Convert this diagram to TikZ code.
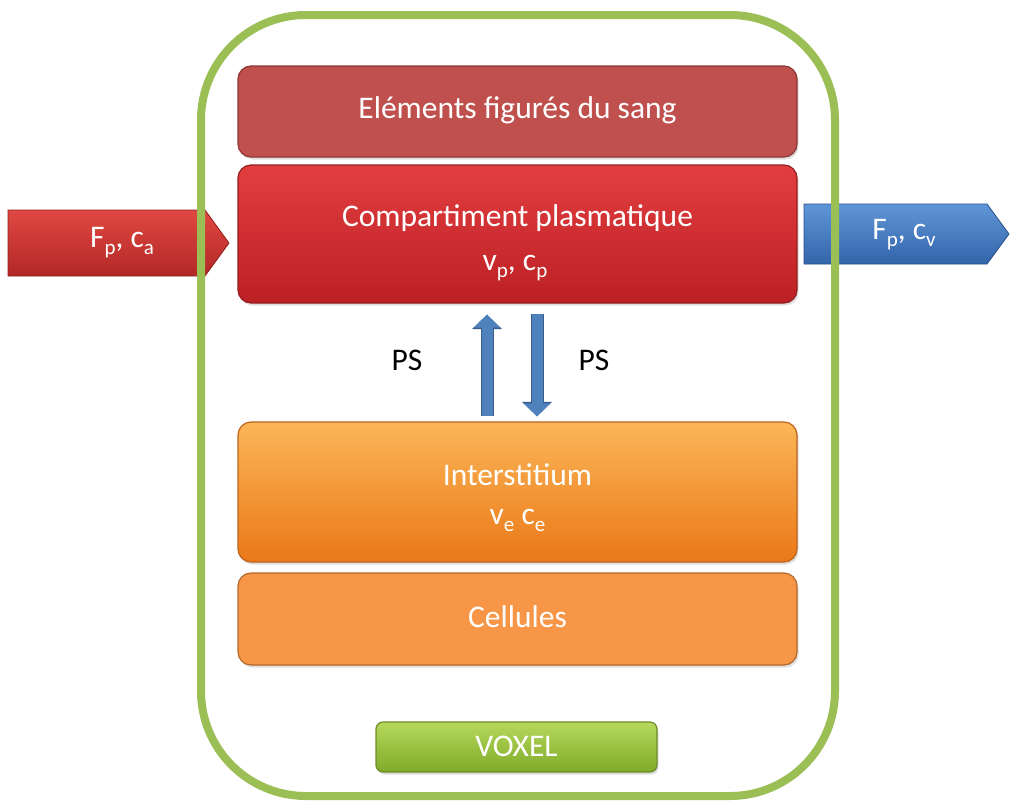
\documentclass[tikz,border=0pt]{standalone}
\usepackage{fontspec}
\setmainfont{Carlito}
\usetikzlibrary{calc,shadows,arrows.meta}
\definecolor{elemfill}{RGB}{192,80,77}
\definecolor{elemdraw}{RGB}{140,56,54}
\definecolor{comptop}{RGB}{226,62,64}
\definecolor{compbot}{RGB}{188,32,36}
\definecolor{compdraw}{RGB}{150,30,32}
\definecolor{intop}{RGB}{224,72,66}
\definecolor{inbot}{RGB}{178,40,38}
\definecolor{outtop}{RGB}{95,150,215}
\definecolor{outbot}{RGB}{50,100,170}
\definecolor{intertop}{RGB}{251,182,88}
\definecolor{interbot}{RGB}{234,120,24}
\definecolor{interdraw}{RGB}{190,100,30}
\definecolor{cellfill}{RGB}{246,150,70}
\definecolor{celldraw}{RGB}{180,105,45}
\definecolor{voxtop}{RGB}{182,216,92}
\definecolor{voxbot}{RGB}{128,170,42}
\definecolor{voxdraw}{RGB}{110,140,40}
\definecolor{framegreen}{RGB}{155,190,85}
\definecolor{psblue}{RGB}{79,129,189}
\definecolor{psdark}{RGB}{56,93,138}
\newcommand\sbx[1]{\raisebox{-0.22em}{\fontsize{21}{21}\selectfont #1}}
\tikzset{
  txt/.style={text=white, font=\fontsize{31.5}{36}\selectfont, inner sep=0pt},
  pslabel/.style={text=black, font=\fontsize{31.5}{36}\selectfont, inner sep=0pt},
  compbox/.style={rounded corners=13pt, minimum width=559pt, inner sep=0pt, line width=1.2pt,
    drop shadow={opacity=0.25, shadow xshift=1.5pt, shadow yshift=-2.5pt}},
  framebox/.style={draw=framegreen, line width=8pt, rounded corners=105pt, inner sep=0pt},
  psline/.style={draw=psblue, line width=11pt, -{Triangle[width=26pt,length=13pt]},
    preaction={draw=psdark, line width=13pt, -{Triangle[width=29pt,length=14.5pt]}}},
}
\begin{document}
\begin{tikzpicture}[x=1pt,y=-1pt]
\useasboundingbox[fill=white] (0,0) rectangle (1011,803);
% flow arrows
\shade[top color=intop, bottom color=inbot, draw=inbot!80!black, line width=0.8pt]
  (8,210) -- (205,210) -- (229,243) -- (205,276) -- (8,276) -- cycle;
\node[txt] (inflow) at (122,243) {F\sbx{p}, c\sbx{a}};
\shade[top color=outtop, bottom color=outbot, draw=outbot!80!black, line width=0.8pt]
  (804,204) -- (987,204) -- (1009,234) -- (987,264) -- (804,264) -- cycle;
\node[txt] (outflow) at (904,235) {F\sbx{p}, c\sbx{v}};
% voxel frame
\node[framebox, minimum width=634pt, minimum height=781pt] (frame) at (518,405.5) {};
% compartments
\node[compbox, minimum height=91pt, fill=elemfill, draw=elemdraw] (elem) at (517.5,111.5) {};
\node[txt] (elemtxt) at (517.5,110) {Eléments figurés du sang};
\node[compbox, minimum height=138pt, top color=comptop, bottom color=compbot, draw=compdraw] (comp) at (517.5,234) {};
\node[txt] (comptxt) at (517.5,218) {Compartiment plasmatique};
\node[txt] (compsub) at (515,268) {v\sbx{p}, c\sbx{p}};
\node[compbox, minimum height=140pt, top color=intertop, bottom color=interbot, draw=interdraw] (inter) at (517.5,492) {};
\node[txt] (intertxt) at (517.5,475) {Interstitium};
\node[txt] (intersub) at (517.5,520) {v\sbx{e} c\sbx{e}};
\node[compbox, minimum height=92pt, fill=cellfill, draw=celldraw] (cell) at (517.5,619) {};
\node[txt] (celltxt) at (517.5,617) {Cellules};
\node[compbox, minimum width=281pt, minimum height=50pt, rounded corners=7pt, top color=voxtop, bottom color=voxbot, draw=voxdraw] (voxel) at (516.5,747) {};
\node[txt] (voxeltxt) at (516.5,746) {VOXEL};
% PS exchanges
\coordinate (upbase) at ($(inter.north)+(-30.5,-5)$);
\coordinate (uptip) at ($(comp.south)+(-30.5,11)$);
\coordinate (dnbase) at ($(comp.south)+(19.5,10)$);
\coordinate (dntip) at ($(inter.north)+(19.5,-5)$);
\draw[psline] (upbase) -- (uptip);
\draw[psline] (dnbase) -- (dntip);
\node[pslabel] (psl) at (407,360) {PS};
\node[pslabel] (psr) at (594,360) {PS};
\end{tikzpicture}
\end{document}
